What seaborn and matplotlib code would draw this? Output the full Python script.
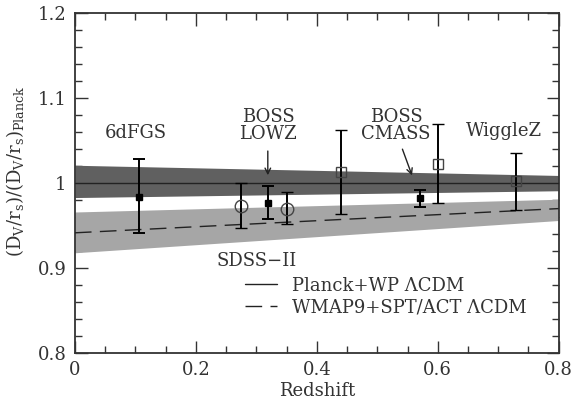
import numpy as np
import pandas as pd
import matplotlib
matplotlib.use("Agg")
import matplotlib.pyplot as plt
import seaborn as sns

# ---- data ----
band_z = [0.0, 0.8]
planck_lo = [0.983, 0.991]
planck_hi = [1.021, 1.009]
planck_mid = [1.0, 1.0]
wmap_lo = [0.918, 0.956]
wmap_hi = [0.966, 0.981]
wmap_mid = [0.9415, 0.970]

filled_z = [0.106, 0.32, 0.571]
filled_y = [0.984, 0.977, 0.982]
filled_lo = [0.941, 0.958, 0.972]
filled_hi = [1.028, 0.996, 0.992]

circ_z = [0.275, 0.351]
circ_y = [0.973, 0.970]
circ_lo = [0.947, 0.952]
circ_hi = [1.000, 0.989]

sq_z = [0.44, 0.60, 0.73]
sq_y = [1.0126, 1.023, 1.002]
sq_lo = [0.964, 0.977, 0.968]
sq_hi = [1.062, 1.069, 1.036]

x_ticks = [0, 0.2, 0.4, 0.6, 0.8]
x_ticklabels = ["0", "0.2", "0.4", "0.6", "0.8"]
y_ticks = [0.8, 0.9, 1.0, 1.1, 1.2]
y_ticklabels = ["0.8", "0.9", "1", "1.1", "1.2"]

sns.set_style("ticks")
plt.rcParams['font.family'] = ['DejaVu Serif']
plt.rcParams['mathtext.fontset'] = 'dejavuserif'
plt.rcParams['text.color'] = '#333333'
plt.rcParams['axes.labelcolor'] = '#333333'
plt.rcParams['xtick.labelcolor'] = '#333333'
plt.rcParams['ytick.labelcolor'] = '#333333'
FS = 13

fig = plt.figure(figsize=(5.76, 4.11), dpi=100)
ax = fig.add_axes([0.130, 0.141, 0.840, 0.827])

ax.fill_between(band_z, wmap_lo, wmap_hi, color="#a6a6a6", lw=0, zorder=1)
ax.fill_between(band_z, planck_lo, planck_hi, color="#606060", lw=0, zorder=2)

lines = pd.DataFrame({
    "z": band_z + band_z,
    "y": planck_mid + wmap_mid,
    "model": ["Planck+WP ΛCDM"] * 2 + ["WMAP9+SPT/ACT ΛCDM"] * 2,
})
sns.lineplot(data=lines, x="z", y="y", style="model",
             dashes={"Planck+WP ΛCDM": "", "WMAP9+SPT/ACT ΛCDM": (12, 6)},
             color="#222222", lw=1.0, ax=ax, zorder=3)

def errs(y, lo, hi):
    y = np.array(y); return [y - np.array(lo), np.array(hi) - y]

ekw = dict(ecolor="black", elinewidth=1.4, capsize=4, capthick=1.4, ls="none", zorder=4)
ax.errorbar(filled_z, filled_y, yerr=errs(filled_y, filled_lo, filled_hi),
            marker="s", ms=5, mfc="black", mec="black", **ekw)
ax.errorbar(circ_z, circ_y, yerr=errs(circ_y, circ_lo, circ_hi),
            marker="o", ms=9, mfc="none", mec="#444444", mew=1.0, **ekw)
ax.errorbar(sq_z, sq_y, yerr=errs(sq_y, sq_lo, sq_hi),
            marker="s", ms=7, mfc="none", mec="#444444", mew=1.0, **ekw)

# annotations
ax.text(0.10, 1.059, "6dFGS", ha="center", va="center", fontsize=FS)
ax.text(0.32, 1.068, "BOSS\nLOWZ", ha="center", va="center", fontsize=FS, linespacing=0.95)
ax.annotate("", xy=(0.319, 1.006), xytext=(0.319, 1.041),
            arrowprops=dict(arrowstyle="->", color="#222222", lw=1.0))
ax.text(0.531, 1.068, "BOSS\nCMASS", ha="center", va="center", fontsize=FS, linespacing=0.95)
ax.annotate("", xy=(0.559, 1.006), xytext=(0.540, 1.043),
            arrowprops=dict(arrowstyle="->", color="#222222", lw=1.0))
ax.text(0.709, 1.0615, "WiggleZ", ha="center", va="center", fontsize=FS)
ax.text(0.30, 0.9086, "SDSS\u2212II", ha="center", va="center", fontsize=FS)

ax.set_xlim(0, 0.8)
ax.set_ylim(0.8, 1.2)
ax.set_xticks(x_ticks)
ax.set_xticklabels(x_ticklabels, fontsize=FS)
ax.set_yticks(y_ticks)
ax.set_yticklabels(y_ticklabels, fontsize=FS)
ax.set_xticks(np.arange(0, 0.801, 0.05), minor=True)
ax.set_yticks(np.arange(0.8, 1.201, 0.02), minor=True)
ax.tick_params(which="both", direction="in", top=True, right=True, width=1.0, color="#333333")
ax.tick_params(which="major", length=9, pad=6)
ax.tick_params(which="minor", length=5)
for s in ax.spines.values():
    s.set_linewidth(1.3)
    s.set_color("#333333")

ax.set_xlabel("Redshift", fontsize=FS, labelpad=2)
ax.set_ylabel(r"$(\mathrm{D_V/r_s})/(\mathrm{D_V/r_s})_{\mathrm{Planck}}$", fontsize=FS)
ax.yaxis.set_label_coords(-0.10, 0.535)

leg = ax.legend(loc="upper left", bbox_to_anchor=(0.351, 0.225), frameon=False,
                fontsize=FS, handlelength=1.8, handletextpad=0.8, labelspacing=0.2,
                borderpad=0, borderaxespad=0, title=None)
for h in leg.get_lines():
    h.set_color("#222222")

fig.savefig("out.png", dpi=100)
